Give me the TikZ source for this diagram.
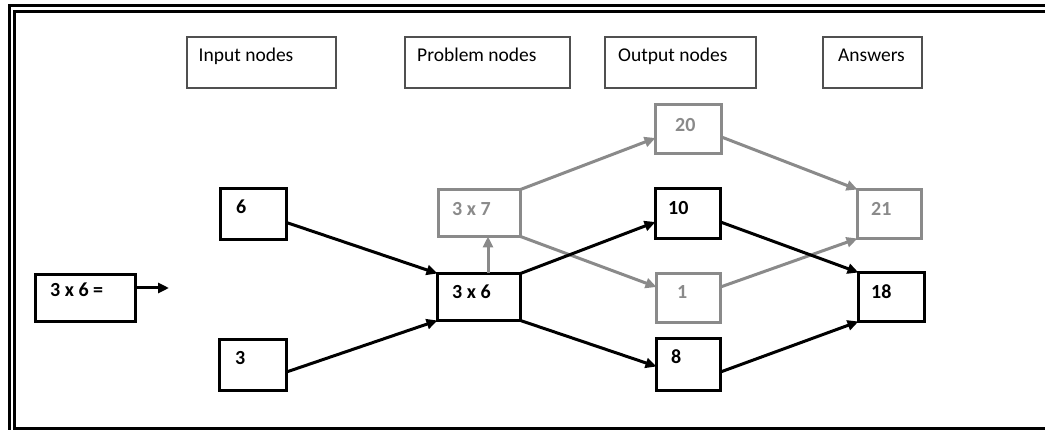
\documentclass[tikz,border=0pt]{standalone}
\usepackage{fontspec}
\setmainfont{Carlito}
\usetikzlibrary{arrows.meta}
\definecolor{faint}{RGB}{138,138,138}
\definecolor{hdrline}{RGB}{80,80,80}
\begin{document}
\begin{tikzpicture}[x=1pt,y=-1pt,
  frame/.style={line width=3.2pt},
  hdrbox/.style={draw=hdrline, line width=1.6pt, anchor=north west, inner sep=0pt, outer sep=0pt, minimum height=51pt},
  hdrtext/.style={anchor=base west, inner sep=0pt, font=\fontsize{19.5}{22}\selectfont},
  numbox/.style={draw=black, line width=3.2pt, anchor=north west, inner sep=0pt, outer sep=0pt, minimum width=66pt, minimum height=50pt},
  probbox/.style={numbox, minimum width=83pt, minimum height=47pt},
  dim/.style={draw=faint},
  numtext/.style={anchor=base west, inner sep=0pt, font=\bfseries\fontsize{20}{23}\selectfont},
  dimtext/.style={numtext, text=faint},
  arr/.style={line width=3pt, -{Triangle[length=11pt,width=10pt]}},
  dimarr/.style={arr, draw=faint}]
\useasboundingbox (0,0) rectangle (1045,430);

% double border along the top and left, single along the bottom
\draw[frame] (9.5,430) -- (9.5,5.5) -- (1045,5.5);
\draw[frame] (1045,11.5) -- (14.5,11.5) -- (14.5,428.5) -- (1045,428.5);

% column headers
\node[hdrbox, minimum width=149pt] (hIn) at (187,37) {};
\node[hdrtext] (hInT) at (198.5,62) {Input nodes};
\node[hdrbox, minimum width=165pt] (hProb) at (405,37) {};
\node[hdrtext] (hProbT) at (417,62) {Problem nodes};
\node[hdrbox, minimum width=151pt] (hOut) at (605,37) {};
\node[hdrtext] (hOutT) at (618,62) {Output nodes};
\node[hdrbox, minimum width=99pt] (hAns) at (823,37) {};
\node[hdrtext] (hAnsT) at (838,62) {Answers};

% question
\node[numbox, minimum width=100pt, minimum height=47pt] (q) at (35.5,274.5) {};
\node[numtext] (qT) at (50,297) {3 x 6 =};
\coordinate (qEnd) at (169,288);

% input nodes
\node[numbox, minimum height=51pt] (i6) at (220.5,188.5) {};
\node[numtext] (i6T) at (236,214) {6};
\node[numbox, minimum width=67pt, minimum height=51pt] (i3) at (219.5,339.5) {};
\node[numtext] (i3T) at (235,365) {3};

% problem nodes
\node[probbox] (p36) at (437.5,273.5) {};
\node[numtext] (p36T) at (452,299) {3 x 6};
\node[probbox, dim, minimum width=82pt] (p37) at (438.5,189.5) {};
\node[dimtext] (p37T) at (452,216) {3 x 7};

% output nodes
\node[numbox, dim, minimum height=49pt] (o20) at (655.5,104.5) {};
\node[dimtext] (o20T) at (675,132) {20};
\node[numbox, minimum width=65pt] (o10) at (655.5,188.5) {};
\node[numtext] (o10T) at (668,215) {10};
\node[numbox, dim, minimum width=64pt, minimum height=49pt] (o1) at (656.5,273.5) {};
\node[dimtext] (o1T) at (677,299) {1};
\node[numbox, minimum width=64pt, minimum height=52pt] (o8) at (656.5,338.5) {};
\node[numtext] (o8T) at (671,364) {8};

% answers
\node[numbox, dim, minimum width=64pt, minimum height=49pt] (a21) at (857.5,189.5) {};
\node[dimtext] (a21T) at (871,216) {21};
\node[numbox, minimum height=49pt] (a18) at (858.5,272.5) {};
\node[numtext] (a18T) at (871,299) {18};

% rejected branch
\draw[dimarr] ([xshift=9pt]p36.north) -- ([xshift=9pt]p36.north |- p37.south);
\draw[dimarr] (p37.north east) -- ([yshift=-9pt]o20.west);
\draw[dimarr] (p37.south east) -- ([yshift=11pt]o1.west);
\draw[dimarr] ([yshift=-8pt]o20.east) -- (a21.north west);
\draw[dimarr] ([yshift=11pt]o1.east) -- (a21.south west);

% accepted branch
\draw[arr] ([yshift=10pt]q.east) -- (qEnd);
\draw[arr] ([yshift=-8.5pt]i6.east) -- (p36.north west);
\draw[arr] ([yshift=-7pt]i3.east) -- (p36.south west);
\draw[arr] (p36.north east) -- ([yshift=-8.5pt]o10.west);
\draw[arr] (p36.south east) -- ([yshift=-2pt]o8.west);
\draw[arr] ([yshift=-8.5pt]o10.east) -- (a18.north west);
\draw[arr] ([yshift=-7.5pt]o8.east) -- (a18.south west);
\end{tikzpicture}
\end{document}
